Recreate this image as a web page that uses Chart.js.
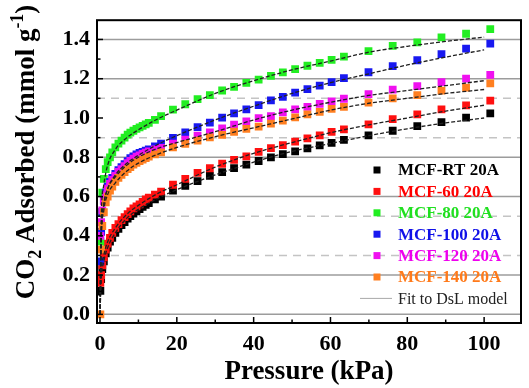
<!DOCTYPE html>
<html>
<head>
<meta charset="utf-8">
<script src="https://cdn.jsdelivr.net/npm/chart.js@4.4.1/dist/chart.umd.min.js"></script>
<style>
  html, body { margin: 0; padding: 0; background: #fff; }
</style>
</head>
<body>
<canvas id="Chart" width="529" height="388"></canvas>
<script>
// measured points, pressure in kPa (same for every sample)
var pressure = [0.1, 0.3, 0.6, 1.0, 1.5, 2.0, 2.6, 3.2, 4.0, 4.8, 5.6, 6.4, 7.2, 7.9, 8.7, 9.5, 10.3, 11.1, 11.9, 12.7,
    14.3, 15.9, 19.0, 22.2, 25.4, 28.6, 31.8, 34.9, 38.1, 41.3, 44.5, 47.6, 50.8, 54.0, 57.2, 60.3, 63.5,
    69.9, 76.2, 82.6, 88.9, 95.3, 101.6];

var mcfRT = [0.12, 0.18, 0.23, 0.27, 0.31, 0.34, 0.37, 0.39, 0.415, 0.435, 0.455, 0.47, 0.487, 0.50, 0.513, 0.525, 0.536, 0.548, 0.558, 0.567,
    0.585, 0.60, 0.63, 0.655, 0.679, 0.705, 0.724, 0.745, 0.762, 0.781, 0.799, 0.816, 0.830, 0.845, 0.860, 0.873, 0.888,
    0.912, 0.935, 0.959, 0.979, 1.002, 1.023];
var mcf60 = [0.16, 0.20, 0.25, 0.29, 0.33, 0.36, 0.39, 0.415, 0.44, 0.46, 0.48, 0.495, 0.51, 0.525, 0.54, 0.55, 0.56, 0.573, 0.585, 0.595,
    0.61, 0.625, 0.66, 0.69, 0.721, 0.744, 0.767, 0.787, 0.805, 0.828, 0.846, 0.862, 0.880, 0.896, 0.912, 0.929, 0.942,
    0.968, 0.994, 1.018, 1.044, 1.064, 1.088];
var mcf80 = [0.37, 0.52, 0.62, 0.69, 0.74, 0.775, 0.80, 0.825, 0.85, 0.87, 0.885, 0.90, 0.915, 0.925, 0.935, 0.945, 0.952, 0.96, 0.967, 0.975,
    0.99, 1.01, 1.043, 1.070, 1.096, 1.117, 1.140, 1.158, 1.179, 1.195, 1.215, 1.232, 1.249, 1.266, 1.281, 1.296, 1.312,
    1.340, 1.367, 1.385, 1.410, 1.429, 1.452];
var mcf100 = [0.27, 0.42, 0.52, 0.58, 0.62, 0.65, 0.675, 0.695, 0.715, 0.735, 0.75, 0.765, 0.78, 0.795, 0.805, 0.815, 0.822, 0.828, 0.834, 0.84,
    0.855, 0.870, 0.899, 0.927, 0.954, 0.976, 1.002, 1.023, 1.044, 1.066, 1.090, 1.108, 1.129, 1.147, 1.165, 1.183, 1.203,
    1.233, 1.264, 1.294, 1.325, 1.353, 1.379];
var mcf120 = [0.40, 0.47, 0.53, 0.575, 0.61, 0.64, 0.665, 0.685, 0.705, 0.725, 0.74, 0.755, 0.77, 0.782, 0.793, 0.803, 0.81, 0.817, 0.823, 0.83,
    0.84, 0.848, 0.87, 0.89, 0.91, 0.927, 0.947, 0.966, 0.983, 0.999, 1.010, 1.029, 1.044, 1.057, 1.072, 1.085, 1.098,
    1.121, 1.144, 1.162, 1.183, 1.201, 1.220];
var mcf140 = [0.0, 0.33, 0.45, 0.52, 0.57, 0.60, 0.63, 0.65, 0.675, 0.695, 0.71, 0.725, 0.74, 0.75, 0.762, 0.772, 0.78, 0.788, 0.796, 0.803,
    0.815, 0.825, 0.85, 0.868, 0.885, 0.901, 0.914, 0.930, 0.945, 0.956, 0.971, 0.987, 1.003, 1.018, 1.031, 1.046, 1.057,
    1.078, 1.100, 1.116, 1.139, 1.155, 1.176];

// DsL fit curves
var fitP = [0, 0.3, 1, 2, 4, 7, 10, 15, 20, 30, 40, 50, 60, 70, 80, 90, 100];
var fitRT = [0, 0.17, 0.27, 0.34, 0.415, 0.49, 0.535, 0.59, 0.635, 0.71, 0.775, 0.83, 0.87, 0.91, 0.945, 0.975, 1.0];
var fit60 = [0, 0.20, 0.30, 0.37, 0.44, 0.51, 0.555, 0.615, 0.66, 0.75, 0.82, 0.875, 0.925, 0.965, 1.0, 1.035, 1.065];
var fit80 = [0, 0.48, 0.66, 0.76, 0.84, 0.90, 0.94, 0.995, 1.04, 1.125, 1.19, 1.245, 1.29, 1.335, 1.365, 1.39, 1.412];
var fit100 = [0, 0.38, 0.56, 0.64, 0.71, 0.77, 0.81, 0.865, 0.91, 0.99, 1.06, 1.125, 1.18, 1.225, 1.27, 1.31, 1.347];
var fit120 = [0, 0.40, 0.56, 0.64, 0.70, 0.76, 0.80, 0.845, 0.875, 0.93, 0.99, 1.04, 1.08, 1.115, 1.14, 1.165, 1.19];
var fit140 = [0, 0.36, 0.53, 0.61, 0.67, 0.73, 0.77, 0.815, 0.85, 0.905, 0.95, 0.995, 1.04, 1.075, 1.10, 1.125, 1.145];

var seriesNames = ["MCF-RT 20A", "MCF-60 20A", "MCF-80 20A", "MCF-100 20A", "MCF-120 20A", "MCF-140 20A"];
var seriesColors = ["#000000", "#ff1010", "#22ee22", "#1818f0", "#f010f0", "#ff7f20"];
var textColors = ["#000000", "#ff0000", "#20e020", "#1010e8", "#ee00ee", "#ff7a1a"];
var fitName = "Fit to DsL model";

var xTicks = [0, 20, 40, 60, 80, 100];
var yTicks = [0.0, 0.2, 0.4, 0.6, 0.8, 1.0, 1.2, 1.4];
var gridSolid = [0.0, 0.2, 0.6, 0.8, 1.2, 1.4];
var gridDashed = [0.3, 0.5, 0.9, 1.1];

function pts(xs, ys) {
    return xs.map(function (x, i) { return { x: x, y: ys[i] }; });
}

var measured = [mcfRT, mcf60, mcf80, mcf100, mcf120, mcf140];
var fits = [fitRT, fit60, fit80, fit100, fit120, fit140];
var drawOrder = [6, 5, 4, 3, 2, 1];

var datasets = [];
measured.forEach(function (s, i) {
    datasets.push({
        label: seriesNames[i],
        data: pts(pressure, s),
        showLine: false,
        pointStyle: 'rect',
        pointRadius: 5.5,
        pointBorderWidth: 0,
        backgroundColor: seriesColors[i],
        borderColor: seriesColors[i],
        order: drawOrder[i]
    });
});
fits.forEach(function (f, i) {
    datasets.push({
        label: fitName,
        data: pts(fitP, f),
        showLine: true,
        pointRadius: 0,
        borderColor: '#202020',
        borderWidth: 1.3,
        borderDash: [4, 2],
        cubicInterpolationMode: 'monotone',
        fill: false,
        order: 0
    });
});

var serif = '"Liberation Serif", "Times New Roman", serif';

var decor = {
    id: 'decor',
    beforeDatasetsDraw: function (chart) {
        var ctx = chart.ctx, a = chart.chartArea, sy = chart.scales.y;
        ctx.save();
        ctx.lineWidth = 1.5;
        ctx.strokeStyle = '#9c9c9c';
        gridSolid.forEach(function (v) {
            var py = sy.getPixelForValue(v);
            ctx.beginPath(); ctx.moveTo(a.left, py); ctx.lineTo(a.right, py); ctx.stroke();
        });
        ctx.strokeStyle = '#c4c4c4';
        ctx.setLineDash([8, 6]);
        gridDashed.forEach(function (v) {
            var py = sy.getPixelForValue(v);
            ctx.beginPath(); ctx.moveTo(a.left, py); ctx.lineTo(a.right, py); ctx.stroke();
        });
        ctx.restore();
    },
    afterDraw: function (chart) {
        var ctx = chart.ctx, a = chart.chartArea, sx = chart.scales.x, sy = chart.scales.y;
        ctx.save();
        // frame
        ctx.strokeStyle = '#000';
        ctx.lineWidth = 2;
        ctx.strokeRect(a.left, a.top, a.right - a.left, a.bottom - a.top);
        // inward ticks
        ctx.lineWidth = 1.5;
        for (var t = 0; t <= 100; t += 10) {
            var px = sx.getPixelForValue(t), len = (t % 20 === 0) ? 6 : 3.5;
            ctx.beginPath(); ctx.moveTo(px, a.bottom); ctx.lineTo(px, a.bottom - len); ctx.stroke();
        }
        for (var k = 0; k <= 14; k++) {
            var py = sy.getPixelForValue(k / 10), l2 = (k % 2 === 0) ? 6 : 3.5;
            ctx.beginPath(); ctx.moveTo(a.left, py); ctx.lineTo(a.left + l2, py); ctx.stroke();
        }

        // y title with sub/superscript
        ctx.translate(34, 152);
        ctx.rotate(-Math.PI / 2);
        ctx.fillStyle = '#000';
        ctx.textBaseline = 'alphabetic';
        ctx.textAlign = 'left';
        var big = 'bold 27px ' + serif, small = 'bold 18px ' + serif;
        var parts = [["CO", big, 0], ["2", small, 7], [" Adsorbed (mmol g", big, 0], ["-1", small, -11], [")", big, 0]];
        var total = 0;
        parts.forEach(function (p) { ctx.font = p[1]; total += ctx.measureText(p[0]).width; });
        var cx = -total / 2;
        parts.forEach(function (p) {
            ctx.font = p[1];
            ctx.fillText(p[0], cx, p[2]);
            cx += ctx.measureText(p[0]).width;
        });
        ctx.restore();

        // legend
        ctx.save();
        ctx.textBaseline = 'middle';
        ctx.textAlign = 'left';
        var lx = 377, ly = 170, dy = 21.4;
        seriesNames.forEach(function (n, i) {
            var y = ly + dy * i;
            ctx.fillStyle = seriesColors[i];
            ctx.fillRect(lx - 3.5, y - 3.5, 7, 7);
            ctx.fillStyle = textColors[i];
            ctx.font = 'bold 17px ' + serif;
            ctx.fillText(n, 398, y + 1);
        });
        var fy = ly + dy * 6;
        ctx.strokeStyle = '#a8a8a8';
        ctx.lineWidth = 1;
        ctx.beginPath(); ctx.moveTo(360, fy); ctx.lineTo(392, fy); ctx.stroke();
        ctx.fillStyle = '#222';
        ctx.font = '16px ' + serif;
        ctx.fillText(fitName, 398, fy + 1);
        ctx.restore();
    }
};

var ctx = document.getElementById("Chart").getContext("2d");
var chart = new Chart(ctx, {
    type: 'scatter',
    data: { datasets: datasets },
    options: {
        responsive: false,
        animation: false,
        layout: { padding: { left: 0, right: 8, top: 8, bottom: 0 } },
        plugins: { legend: { display: false }, tooltip: { enabled: false } },
        scales: {
            x: {
                type: 'linear',
                min: -0.78,
                max: 109.6,
                afterFit: function (s) { s.height = 65; },
                afterBuildTicks: function (s) { s.ticks = xTicks.map(function (v) { return { value: v }; }); },
                grid: { display: false, drawTicks: false },
                border: { display: false },
                ticks: {
                    padding: 8,
                    color: '#000',
                    font: { family: serif, size: 22, weight: 'bold' },
                    callback: function (v) { return v; }
                },
                title: {
                    display: true,
                    text: 'Pressure (kPa)',
                    color: '#000',
                    padding: { top: 0, bottom: 0 },
                    font: { family: serif, size: 27, weight: 'bold' }
                }
            },
            y: {
                type: 'linear',
                min: -0.044,
                max: 1.498,
                afterFit: function (s) { s.width = 97; },
                afterBuildTicks: function (s) { s.ticks = yTicks.map(function (v) { return { value: v }; }); },
                grid: { display: false, drawTicks: false },
                border: { display: false },
                ticks: {
                    padding: 7,
                    color: '#000',
                    font: { family: serif, size: 22, weight: 'bold' },
                    callback: function (v) { return v.toFixed(1); }
                }
            }
        }
    },
    plugins: [decor]
});
</script>
</body>
</html>
